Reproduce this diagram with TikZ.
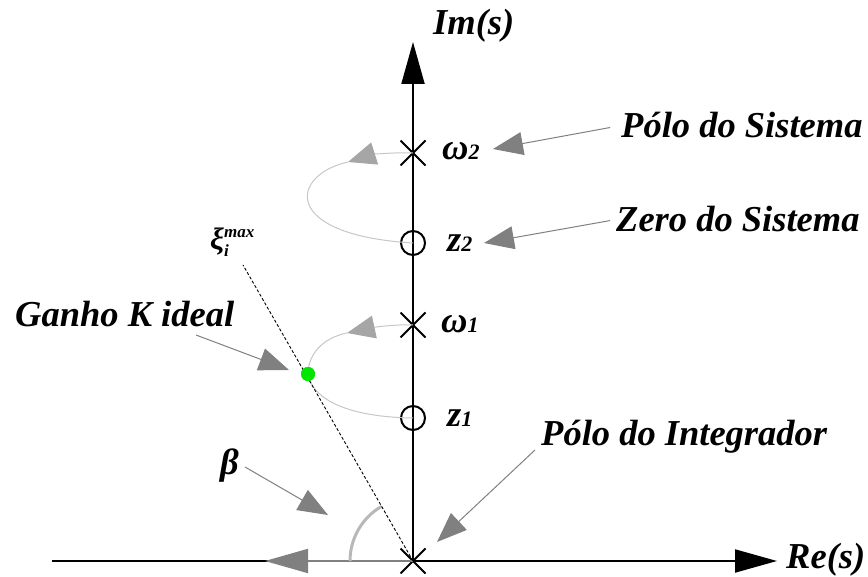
\documentclass[tikz,border=0pt]{standalone}
\usepackage{fontspec}
\setmainfont{Liberation Serif}
\usetikzlibrary{arrows.meta,shapes.misc}
\definecolor{dotgreen}{RGB}{0,230,0}
\begin{document}
\begin{tikzpicture}[x=1pt,y=-1pt,
  lbl/.style={font=\fontsize{36.5}{40}\selectfont\bfseries\itshape, inner sep=0pt, anchor=base west},
  axisline/.style={line width=2pt, -{Triangle[length=42pt,width=23pt]}},
  crossmk/.style={cross out, draw, line width=2pt, minimum size=23pt, inner sep=0pt},
  zeromk/.style={circle, draw, line width=2pt, minimum size=24pt, inner sep=0pt},
  locus/.style={draw=black!22, line width=1pt},
  locarrow/.style={locus, -{Triangle[length=28pt,width=23pt,fill=black!35,color=black!35]}},
  note/.style={draw=black!50, line width=1pt, -{Triangle[length=30pt,width=23pt]}},
]
\useasboundingbox (0,0) rectangle (868,577);
\newcommand{\subsz}[1]{{\fontsize{22}{22}\selectfont #1}}

% axes
\coordinate (O) at (413,561);
\coordinate (xl) at (52,561);
\coordinate (xr) at (777,561);
\coordinate (yt) at (413,42);
\draw[axisline] (xl) -- (xr);
\draw[axisline] (O) -- (yt);
\node[lbl] (im) at (433,35) {Im(s)};
\node[lbl] (re) at (786,568) {Re(s)};

% poles and zeros
\node[crossmk] (p0) at (O) {};
\node[crossmk] (w2) at (413,153) {};
\node[zeromk]  (z2) at (413,243) {};
\node[crossmk] (w1) at (413,325) {};
\node[zeromk]  (z1) at (413,418) {};
\node[lbl] (lw2) at (442,160) {ω\subsz{2}};
\node[lbl] (lz2) at (447,252) {z\subsz{2}};
\node[lbl] (lw1) at (441,333) {ω\subsz{1}};
\node[lbl] (lz1) at (447,427) {z\subsz{1}};

% gray arrow on negative real axis and angle
\coordinate (nx) at (265,561);
\draw[line width=2pt, black!50, -{Triangle[length=43pt,width=24pt]}] (p0.center) -- (nx);
\draw[black!28, line width=3pt] (O) ++(-63,0) arc[start angle=180, end angle=240, radius=63];

% root locus branches
\coordinate (a2) at (348,162);
\coordinate (a1) at (347,333);
\node[circle, fill=dotgreen, minimum size=14pt, inner sep=0pt] (g) at (308,374) {};
\draw[locarrow] (w2.center) .. controls (395,152) and (370,155) .. (a2);
\draw[locus] (a2) .. controls (290,175) and (280,235) .. (z2.center);
\draw[locarrow] (w1.center) .. controls (395,324) and (370,328) .. (a1);
\draw[locus] (a1) .. controls (322,338) and (308,355) .. (g.center);
\draw[locus] (g.center) .. controls (312,398) and (345,417) .. (z1.center);

% damping line
\coordinate (d1) at (243,265);
\draw[line width=0.9pt, dash pattern=on 3pt off 2pt] (p0.center) -- (d1);
\node[circle, fill=dotgreen, minimum size=14pt, inner sep=0pt] at (g) {};
\node[font=\fontsize{31}{31}\selectfont\bfseries\itshape, inner sep=0pt, anchor=base west] (xi) at (210,250)
  {ξ\rlap{\raisebox{-7pt}{\fontsize{17}{17}\selectfont i}}\raisebox{12pt}{\fontsize{17}{17}\selectfont max}};

% annotations
\node[lbl] (tps) at (621,138) {Pólo do Sistema};
\node[lbl] (tzs) at (616,232) {Zero do Sistema};
\node[lbl] (tgk) at (15,327) {Ganho K ideal};
\node[lbl] (tb)  at (220,474) {β};
\node[lbl] (tpi) at (541,445) {Pólo do Integrador};
\coordinate (ps1) at (493,149);
\coordinate (zs1) at (484,243);
\coordinate (gk0) at (196,335);
\coordinate (gk1) at (289,370);
\coordinate (b0) at (245,467);
\coordinate (b1) at (328,515);
\coordinate (pi0) at (535,450);
\coordinate (pi1) at (437,542);
\draw[note, shorten <=11pt] (tps.west) -- (ps1);
\draw[note, shorten <=6pt] (tzs.west) -- (zs1);
\draw[note] (gk0) -- (gk1);
\draw[note] (b0) -- (b1);
\draw[note] (pi0) -- (pi1);
\end{tikzpicture}
\end{document}
